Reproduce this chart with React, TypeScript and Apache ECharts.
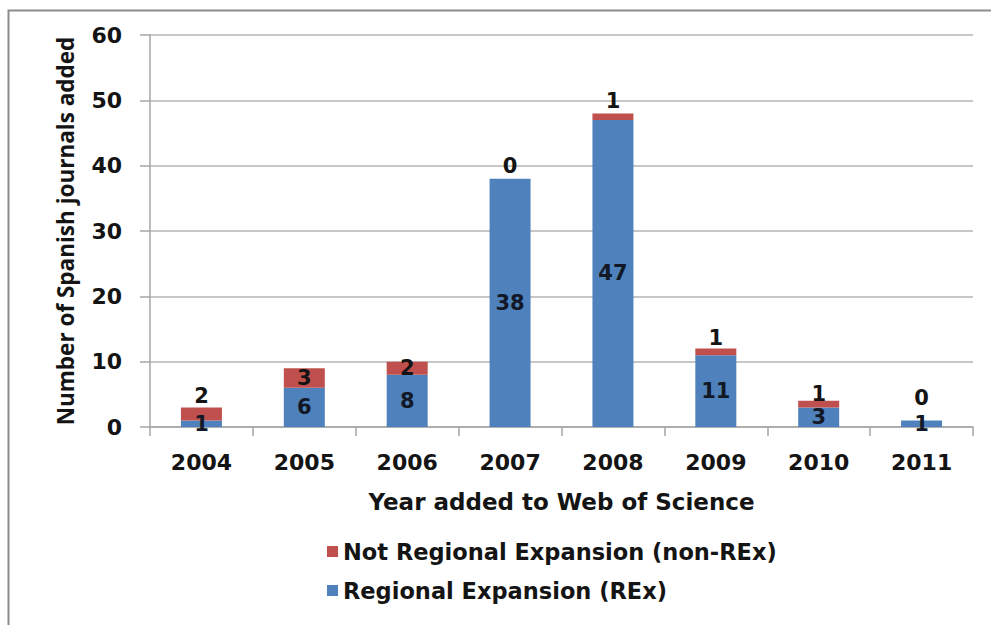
import React, { useEffect, useRef } from "react";
import * as echarts from "echarts";

const years = ["2004", "2005", "2006", "2007", "2008", "2009", "2010", "2011"];
const rexValues = [1, 6, 8, 38, 47, 11, 3, 1];
const nonRexValues = [2, 3, 2, 0, 1, 1, 1, 0];
const yTicks = { min: 0, max: 60, interval: 10 };

const rexName = "Regional Expansion (REx)";
const nonRexName = "Not Regional Expansion (non-REx)";

// label placement style for the red series (per bar)
const nonRexLabelPos = ["top", "inside", "inside", "top", "top", "top", "top", "top"];
const nonRexLabelDist = [1, 0, 0, 2, 2, 0, -4, 12];

const BLUE = "#4F81BD";
const RED = "#C0504D";
const TXT = "#141414";
const HFONT = "DejaVu Sans";

export default function App() {
  const ref = useRef<HTMLDivElement>(null);
  useEffect(() => {
    if (!ref.current) return;
    const chart = echarts.init(ref.current, null, { renderer: "svg" });
    const labelFont = { fontFamily: HFONT, fontWeight: "bold" as const, fontSize: 21, color: TXT };
    chart.setOption({
      animation: false,
      backgroundColor: "#ffffff",
      graphic: [
        {
          type: "rect",
          shape: { x: 8.5, y: 10.5, width: 1200, height: 900 },
          style: { fill: "none", stroke: "#8c8c8c", lineWidth: 2 },
          silent: true,
        },
      ],
      grid: { left: 150, right: 18, top: 35, bottom: 198 },
      legend: {
        orient: "vertical",
        left: 322,
        top: 535,
        itemWidth: 11,
        itemHeight: 11,
        itemGap: 16,
        icon: "rect",
        data: [nonRexName, rexName],
        textStyle: { ...labelFont, fontSize: 22.5, padding: [0, 0, 0, 0] },
      },
      xAxis: {
        type: "category",
        data: years,
        axisLine: { show: true, lineStyle: { color: "#a6a6a6", width: 1.5 } },
        axisTick: { show: true, length: 9, lineStyle: { color: "#a6a6a6", width: 1.5 } },
        axisLabel: { ...labelFont, fontSize: 22, margin: 24 },
        name: "Year added to Web of Science",
        nameLocation: "middle",
        nameGap: 63,
        nameTextStyle: { ...labelFont, fontSize: 23 },
      },
      yAxis: {
        type: "value",
        min: yTicks.min,
        max: yTicks.max,
        interval: yTicks.interval,
        axisLine: { show: true, lineStyle: { color: "#a6a6a6", width: 1.5 } },
        axisTick: { show: true, length: 10, lineStyle: { color: "#a6a6a6", width: 1.5 } },
        splitLine: { show: true, lineStyle: { color: "#b5b5b5", width: 1.5 } },
        axisLabel: { ...labelFont, fontSize: 22, margin: 28 },
        name: "Number of Spanish journals added",
        nameLocation: "middle",
        nameRotate: 90,
        nameGap: 73,
        nameTextStyle: { fontFamily: "Open Sans", fontWeight: "bold", fontSize: 22.5, color: TXT },
      },
      series: [
        {
          name: rexName,
          type: "bar",
          stack: "total",
          barWidth: 41,
          itemStyle: { color: BLUE },
          label: { show: true, position: "inside", ...labelFont, color: "#121826" },
          data: rexValues,
        },
        {
          name: nonRexName,
          type: "bar",
          stack: "total",
          barWidth: 41,
          itemStyle: { color: RED },
          data: nonRexValues.map((v, i) => ({
            value: v,
            label: {
              show: true,
              position: nonRexLabelPos[i],
              distance: nonRexLabelDist[i],
              ...labelFont,
            },
          })),
        },
      ],
    });
    return () => chart.dispose();
  }, []);
  return (
    <div
      ref={ref}
      style={{ position: "fixed", left: 0, top: 0, width: 991, height: 625 }}
    />
  );
}
